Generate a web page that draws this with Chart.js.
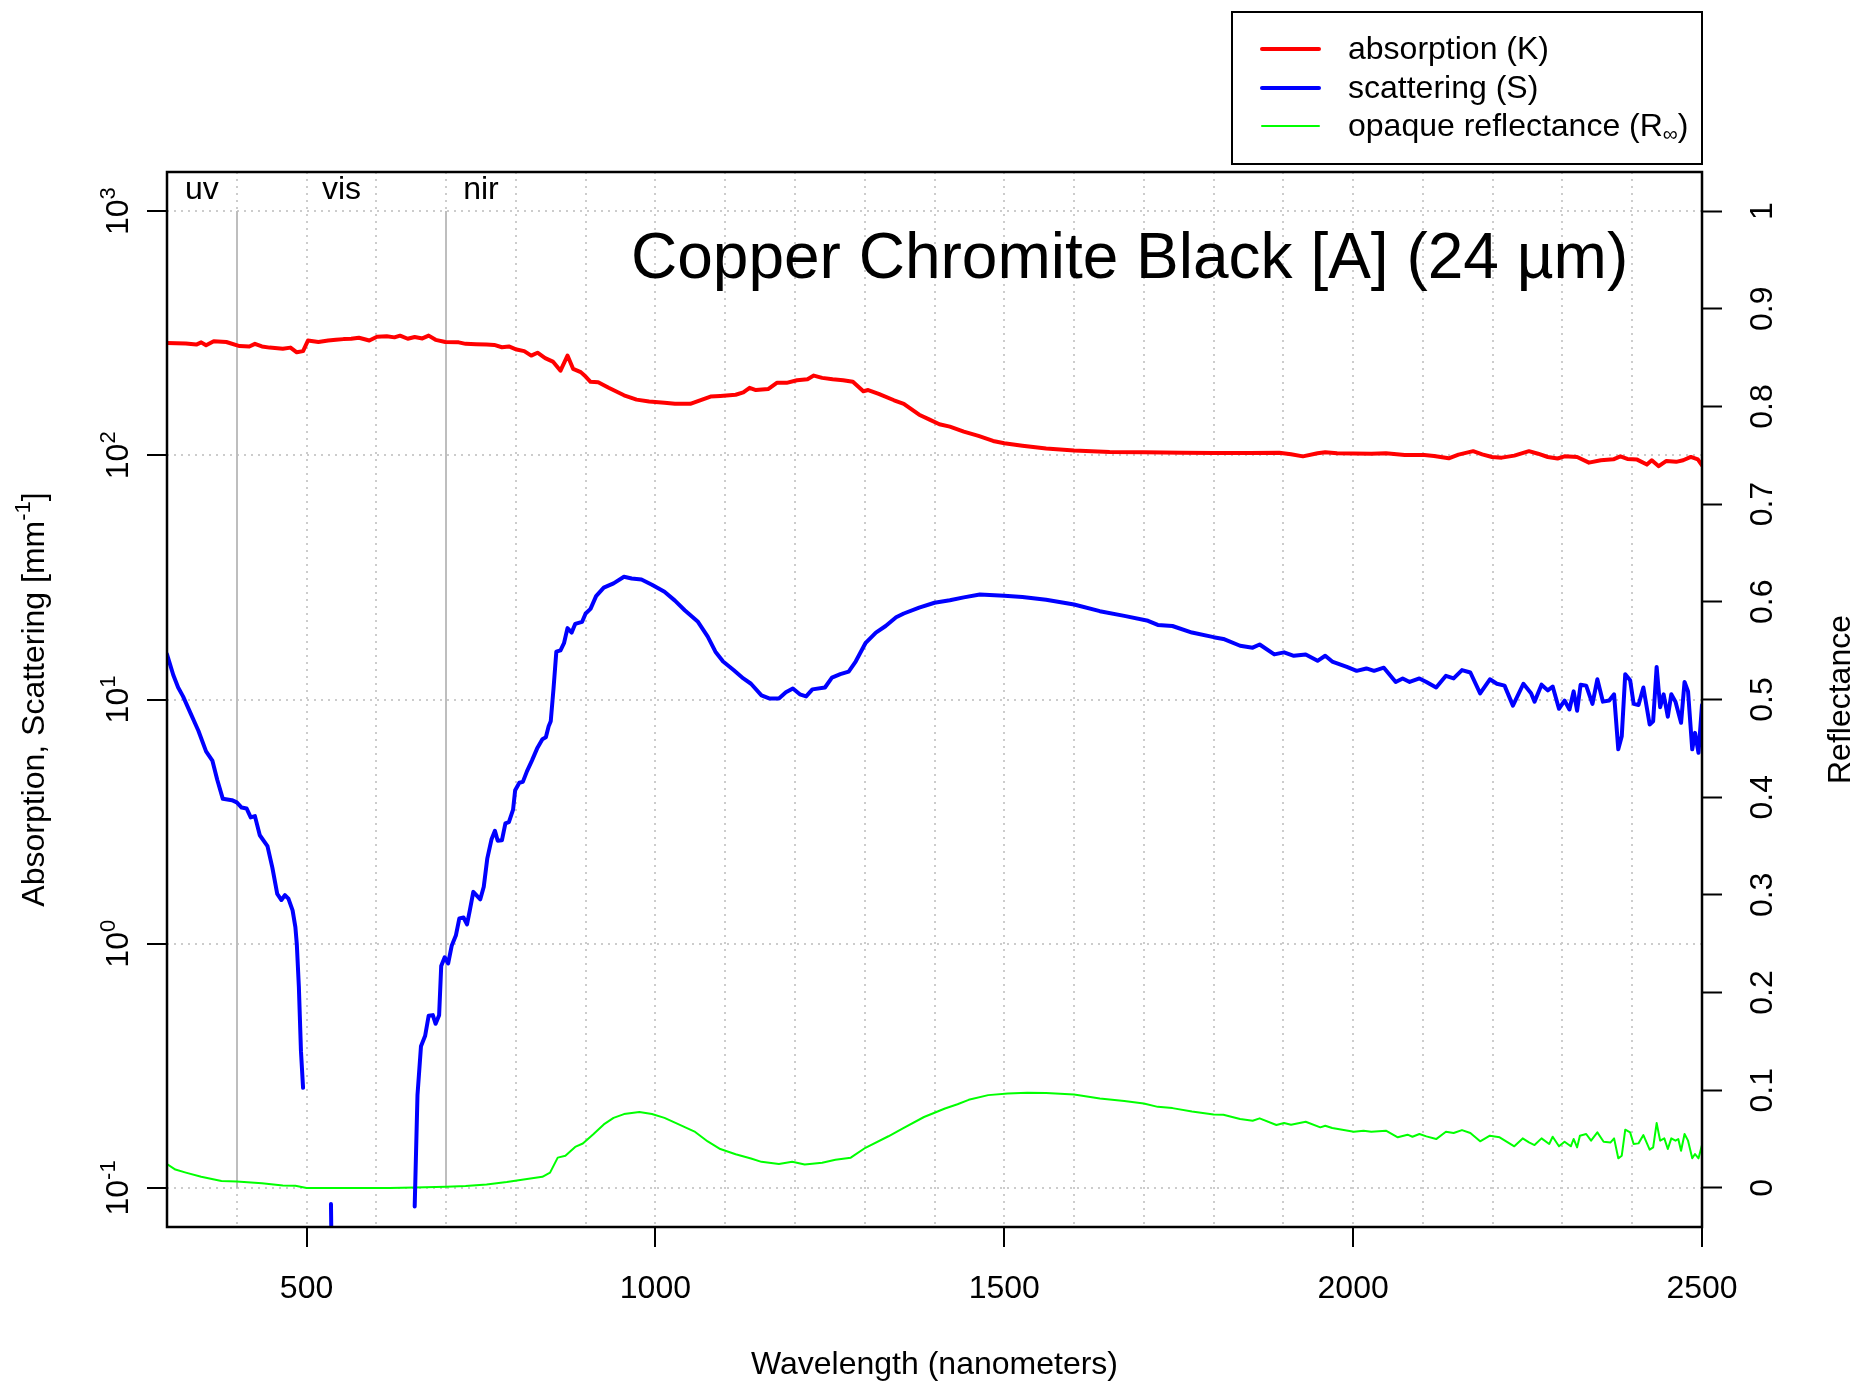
<!DOCTYPE html>
<html>
<head>
<meta charset="utf-8">
<script src="https://cdn.jsdelivr.net/npm/chart.js@4"></script>
<style>
  html, body { margin: 0; padding: 0; background: #fff; }
  #wrap { width: 1860px; height: 1382px; position: relative; }
</style>
</head>
<body>
<div id="wrap"><canvas id="myChart"></canvas></div>
<script>
// absorption K (mm^-1)
var kWave = [300,327,342,349,356,367,385,404,418,426,436,447,466,477,486,495,502,517,531,542,553,564,575,590,601,615,626,634,645,655,666,675,685,699,718,728,743,758,769,780,790,801,812,822,831,842,853,864,874,882,893,900,907,918,933,955,973,991,1013,1028,1050,1064,1079,1093,1115,1126,1135,1144,1162,1174,1188,1203,1218,1227,1239,1254,1269,1283,1298,1305,1320,1342,1356,1378,1393,1407,1422,1442,1463,1484,1500,1526,1560,1600,1651,1700,1755,1800,1852,1894,1911,1928,1949,1960,1977,2000,2026,2047,2074,2102,2116,2137,2151,2172,2185,2199,2213,2231,2252,2265,2279,2293,2303,2321,2338,2355,2373,2383,2393,2407,2421,2428,2438,2449,2463,2473,2484,2494,2500];
var kVals = [288,287,284,290,282,293,291,280,279,286,279,276,273,276,264,267,295,291,295,297,299,300,303,295,306,307,304,309,300,305,301,309,297,291,290,286,285,284,283,277,279,271,267,256,263,250,242,222,256,226,219,210,200,199,189,176,169,166,164,162.5,162.5,168,174,175,177,181,189,185,187,198,198,203,205,212,207.5,205,203,200,183,185,178.5,168,162.5,146.6,140,134,131,125,120,114.5,112,109.5,106.5,104.5,103.2,102.9,102.5,102.2,102.2,102.5,101,99,102,103,102,101.8,101.5,102,100.3,100.3,99.4,97.2,100.6,104,100.9,98.4,97.8,99.7,104,101.5,98.4,97,99,98.4,93.3,95.4,96.3,99,96.6,96,91.6,95.4,90.2,94.8,94,95.4,98.5,96.2,91];

// scattering S (mm^-1), null = no value (gap in the line)
var sWave = [300,309,316,323,334,345,356,365,372,380,393,400,407,414,420,426,433,444,451,458,464,469,474,480,484,486,489,492,495,500,535,537,545,650,655,659,664,670,675,681,685,690,693,698,703,708,714,719,725,730,734,739,749,754,759,765,770,774,780,785,790,796,799,805,810,816,823,831,838,843,847,850,854,858,864,869,874,880,885,895,900,907,915,926,940,955,966,980,995,1013,1028,1042,1061,1075,1086,1097,1112,1126,1137,1152,1163,1177,1187,1197,1207,1216,1225,1243,1253,1265,1277,1287,1301,1316,1330,1345,1356,1378,1400,1422,1442,1465,1500,1526,1560,1600,1637,1672,1706,1720,1741,1769,1800,1814,1838,1856,1866,1887,1901,1915,1932,1949,1960,1970,1991,2005,2019,2030,2044,2061,2071,2081,2095,2105,2119,2133,2144,2156,2168,2182,2196,2206,2217,2229,2244,2255,2260,2270,2279,2286,2295,2303,2310,2316,2321,2326,2334,2343,2350,2358,2367,2374,2380,2385,2390,2397,2402,2409,2416,2425,2430,2435,2440,2445,2451,2456,2462,2470,2475,2480,2486,2490,2495,2500];
var sVals = [15.3,12.6,11.2,10.3,8.75,7.45,6.13,5.62,4.69,3.92,3.87,3.79,3.61,3.58,3.29,3.33,2.78,2.51,2.05,1.6,1.51,1.58,1.53,1.37,1.17,1.0,0.665,0.363,0.257,null,0.086,0.03,null,null,0.084,0.24,0.38,0.42,0.507,0.51,0.47,0.51,0.81,0.88,0.83,0.98,1.08,1.27,1.28,1.2,1.37,1.63,1.52,1.71,2.23,2.67,2.9,2.64,2.65,3.11,3.15,3.54,4.25,4.56,4.6,5.09,5.62,6.35,6.88,7.0,7.77,8.15,11.1,15.7,15.9,17,19.6,18.8,20.4,20.8,22.5,23.5,26.5,28.7,29.9,31.8,31.3,31.0,29.5,27.6,25.4,23.2,20.8,18.1,15.7,14.3,13.2,12.2,11.6,10.4,10.1,10.1,10.7,11.1,10.5,10.3,11.0,11.2,12.3,12.7,13.0,14.3,17.0,18.8,20,21.7,22.5,23.8,24.9,25.5,26.2,26.9,26.6,26.3,25.6,24.5,23,22,21,20.2,20,18.8,18,17.7,16.6,16.3,16.8,15.3,15.6,15.1,15.3,14.4,15.1,14.3,13.6,13.1,13.4,13.1,13.5,11.8,12.2,11.8,12.2,11.8,11.2,12.5,12.2,13.2,12.9,10.6,12.1,11.6,11.4,9.44,11.6,10.6,9.8,11.5,10.9,11.3,9.16,9.9,9.1,10.8,9.0,11.5,11.4,9.6,12.1,9.8,9.9,10.5,6.25,7.08,12.7,12.0,9.6,9.5,11.2,7.9,8.15,13.6,9.3,10.5,8.5,10.5,9.8,8.03,11.8,10.8,6.25,7.3,6.05,9.5];

// opaque reflectance R_inf (0..1, right axis)
var rWave = [300,312,327,349,378,400,436,466,484,500,546,619,655,700,728,758,787,816,838,849,860,871,885,896,911,926,940,955,977,995,1013,1028,1057,1075,1093,1115,1137,1152,1177,1196,1214,1239,1258,1280,1301,1334,1356,1385,1415,1433,1449,1477,1505,1533,1560,1600,1637,1672,1700,1720,1741,1769,1800,1814,1838,1856,1866,1890,1901,1911,1932,1953,1960,1970,2001,2015,2026,2047,2064,2078,2085,2095,2105,2119,2133,2144,2156,2168,2182,2196,2210,2231,2243,2252,2260,2270,2281,2286,2295,2303,2312,2316,2321,2325,2334,2341,2350,2359,2369,2374,2380,2385,2390,2397,2402,2409,2416,2425,2430,2435,2440,2446,2451,2456,2462,2466,2470,2475,2480,2486,2490,2495,2500];
var rVals = [0.0245,0.0188,0.0157,0.0114,0.007,0.0066,0.0048,0.0026,0.0022,0,0,0,0.0004,0.0013,0.002,0.0035,0.006,0.0092,0.0114,0.0157,0.031,0.033,0.042,0.0455,0.055,0.065,0.0717,0.0756,0.0778,0.0756,0.0717,0.0669,0.0573,0.0476,0.0398,0.0345,0.0302,0.0267,0.0245,0.0267,0.024,0.0258,0.0288,0.031,0.0411,0.0529,0.0616,0.0726,0.0813,0.0857,0.0902,0.095,0.0967,0.0974,0.0971,0.0957,0.0916,0.0889,0.0865,0.083,0.0817,0.0783,0.0752,0.0749,0.0705,0.0688,0.0712,0.0644,0.0664,0.0647,0.0678,0.062,0.0637,0.0613,0.0575,0.0586,0.0575,0.0586,0.0518,0.0545,0.0524,0.0552,0.0528,0.05,0.0575,0.0562,0.0592,0.0562,0.0477,0.0535,0.0518,0.0426,0.0507,0.0466,0.0439,0.0507,0.045,0.0524,0.0426,0.0473,0.0426,0.0501,0.0415,0.0535,0.0552,0.0484,0.0569,0.0473,0.0466,0.0507,0.0303,0.033,0.0596,0.0569,0.045,0.0456,0.0541,0.0392,0.0415,0.0664,0.0484,0.0507,0.0398,0.0507,0.0484,0.0501,0.0381,0.0552,0.0484,0.0303,0.0347,0.0303,0.044];

// ticks / labels
var xTickLabels = [500, 1000, 1500, 2000, 2500];
var leftExponents = [-1, 0, 1, 2, 3];
var rightTicks = [0, 0.1, 0.2, 0.3, 0.4, 0.5, 0.6, 0.7, 0.8, 0.9, 1];
var rightTickLabels = ['0', '0.1', '0.2', '0.3', '0.4', '0.5', '0.6', '0.7', '0.8', '0.9', '1'];
var regionNames = ['uv', 'vis', 'nir'];
var regionCenters = [350, 550, 750];
var regionBounds = [400, 700];
var seriesNames = ['absorption (K)', 'scattering (S)', 'opaque reflectance (R'];
var seriesColors = ['#ff0000', '#0000ff', '#00ff00'];
var seriesWidths = [4, 4, 2];
var titleText = 'Copper Chromite Black [A] (24 \u00b5m)';

var FONT = '"Liberation Sans", Arial, Helvetica, sans-serif';
var FS = 32, FS_SUP = 22;
Chart.defaults.font.family = FONT;

function zipPoints(w, v) {
  return w.map(function (x, i) { return { x: x, y: v[i] }; });
}

// fixed plot margins (R style)
var PLOT_LEFT = 167, PLOT_RIGHT = 1702, PLOT_TOP = 172, PLOT_BOTTOM = 1227;

function drawRotated(ctx, text, bx, cy, size) {
  ctx.save();
  ctx.translate(bx, cy);
  ctx.rotate(-Math.PI / 2);
  ctx.font = size + 'px ' + FONT;
  ctx.textAlign = 'center';
  ctx.textBaseline = 'alphabetic';
  ctx.fillText(text, 0, 0);
  ctx.restore();
}

var decorPlugin = {
  id: 'decor',
  beforeDatasetsDraw: function (chart) {
    var ctx = chart.ctx, x = chart.scales.x, y = chart.scales.y;
    ctx.save();
    ctx.strokeStyle = '#bebebe';
    ctx.lineWidth = 2;
    regionBounds.forEach(function (b) {
      var px = Math.round(x.getPixelForValue(b));
      ctx.beginPath();
      ctx.moveTo(px, y.getPixelForValue(1000));
      ctx.lineTo(px, y.getPixelForValue(0.1));
      ctx.stroke();
    });
    ctx.restore();
  },
  afterDraw: function (chart) {
    var ctx = chart.ctx, x = chart.scales.x, y = chart.scales.y, y2 = chart.scales.y2;
    var a = chart.chartArea;
    ctx.save();
    ctx.fillStyle = '#000';

    // frame
    ctx.strokeStyle = '#000';
    ctx.lineWidth = 2.5;
    ctx.strokeRect(a.left, a.top, a.right - a.left, a.bottom - a.top);

    // uv / vis / nir
    ctx.font = FS + 'px ' + FONT;
    ctx.textAlign = 'center';
    ctx.textBaseline = 'alphabetic';
    regionNames.forEach(function (n, i) {
      ctx.fillText(n, x.getPixelForValue(regionCenters[i]), 199);
    });

    // title
    ctx.font = '64px ' + FONT;
    ctx.textAlign = 'left';
    ctx.fillText(titleText, 631, 278);

    // x tick labels
    ctx.font = FS + 'px ' + FONT;
    ctx.textAlign = 'center';
    xTickLabels.forEach(function (v) {
      ctx.fillText(String(v), x.getPixelForValue(v), 1298);
    });

    // left tick labels 10^n, rotated
    leftExponents.forEach(function (e) {
      var cy = y.getPixelForValue(Math.pow(10, e));
      ctx.save();
      ctx.translate(128, cy);
      ctx.rotate(-Math.PI / 2);
      ctx.textAlign = 'left';
      ctx.font = FS + 'px ' + FONT;
      var w10 = ctx.measureText('10').width;
      ctx.font = FS_SUP + 'px ' + FONT;
      var ws = ctx.measureText(String(e)).width;
      var x0 = -(w10 + ws) / 2;
      ctx.font = FS + 'px ' + FONT;
      ctx.fillText('10', x0, 0);
      ctx.font = FS_SUP + 'px ' + FONT;
      ctx.fillText(String(e), x0 + w10, -13);
      ctx.restore();
    });

    // right tick labels, rotated
    rightTicks.forEach(function (v, i) {
      drawRotated(ctx, rightTickLabels[i], 1772, y2.getPixelForValue(v), FS);
    });

    // axis titles
    ctx.textAlign = 'center';
    ctx.font = FS + 'px ' + FONT;
    ctx.fillText('Wavelength (nanometers)', (a.left + a.right) / 2, 1374);
    drawRotated(ctx, 'Reflectance', 1850, (a.top + a.bottom) / 2, FS);

    // left axis title with superscript
    ctx.save();
    ctx.translate(44, (a.top + a.bottom) / 2);
    ctx.rotate(-Math.PI / 2);
    ctx.textAlign = 'left';
    var t1 = 'Absorption, Scattering [mm', t2 = '-1', t3 = ']';
    ctx.font = FS + 'px ' + FONT;
    var w1 = ctx.measureText(t1).width, w3 = ctx.measureText(t3).width;
    ctx.font = FS_SUP + 'px ' + FONT;
    var w2 = ctx.measureText(t2).width;
    var sx = -(w1 + w2 + w3) / 2;
    ctx.font = FS + 'px ' + FONT;
    ctx.fillText(t1, sx, 0);
    ctx.fillText(t3, sx + w1 + w2, 0);
    ctx.font = FS_SUP + 'px ' + FONT;
    ctx.fillText(t2, sx + w1, -14);
    ctx.restore();

    // legend
    ctx.lineWidth = 2;
    ctx.strokeStyle = '#000';
    ctx.strokeRect(1232, 12, 470, 152);
    var rows = [49, 88, 126];
    ctx.lineCap = 'round';
    seriesNames.forEach(function (n, i) {
      ctx.strokeStyle = seriesColors[i];
      ctx.lineWidth = seriesWidths[i];
      ctx.beginPath();
      ctx.moveTo(1262, rows[i]);
      ctx.lineTo(1319, rows[i]);
      ctx.stroke();
      ctx.font = FS + 'px ' + FONT;
      ctx.textAlign = 'left';
      ctx.fillText(n, 1348, rows[i] + 10);
    });
    // subscript infinity and closing bracket for R_inf
    ctx.font = FS + 'px ' + FONT;
    var wr = ctx.measureText(seriesNames[2]).width;
    ctx.font = '21px ' + FONT;
    var winf = ctx.measureText('\u221e').width;
    ctx.fillText('\u221e', 1348 + wr, rows[2] + 15);
    ctx.font = FS + 'px ' + FONT;
    ctx.fillText(')', 1348 + wr + winf, rows[2] + 10);

    ctx.restore();
  }
};

var gridDots = { color: '#cccccc', lineWidth: 2, dash: [2, 5] };

var ctx = document.getElementById('myChart');
var myChart = new Chart(ctx, {
  type: 'line',
  data: {
    datasets: [{
      label: seriesNames[0],
      data: zipPoints(kWave, kVals),
      borderColor: seriesColors[0],
      borderWidth: seriesWidths[0],
      yAxisID: 'y'
    }, {
      label: seriesNames[1],
      data: zipPoints(sWave, sVals),
      borderColor: seriesColors[1],
      borderWidth: seriesWidths[1],
      spanGaps: false,
      yAxisID: 'y'
    }, {
      label: seriesNames[2],
      data: zipPoints(rWave, rVals),
      borderColor: seriesColors[2],
      borderWidth: seriesWidths[2],
      yAxisID: 'y2'
    }]
  },
  options: {
    responsive: true,
    maintainAspectRatio: false,
    devicePixelRatio: 1,
    animation: false,
    layout: { padding: { top: PLOT_TOP, left: 0, right: 0, bottom: 0 } },
    elements: {
      point: { radius: 0 },
      line: { tension: 0, fill: false, borderCapStyle: 'round', borderJoinStyle: 'round' }
    },
    plugins: { legend: { display: false }, tooltip: { enabled: false } },
    scales: {
      x: {
        type: 'linear',
        min: 300,
        max: 2500,
        ticks: { stepSize: 100, display: false },
        border: { display: false, dash: gridDots.dash },
        grid: {
          color: gridDots.color,
          lineWidth: gridDots.lineWidth,
          tickLength: 20,
          tickWidth: 2,
          tickBorderDash: [],
          tickColor: function (c) {
            return c.tick && xTickLabels.indexOf(c.tick.value) >= 0 ? '#000' : 'rgba(0,0,0,0)';
          }
        },
        afterFit: function (s) { s.height = 1382 - PLOT_BOTTOM; }
      },
      y: {
        type: 'logarithmic',
        position: 'left',
        min: Math.pow(10, -1.16),
        max: Math.pow(10, 3.16),
        ticks: { display: false },
        border: { display: false, dash: gridDots.dash },
        afterBuildTicks: function (s) {
          s.ticks = leftExponents.map(function (e) { return { value: Math.pow(10, e) }; });
        },
        grid: {
          color: gridDots.color,
          lineWidth: gridDots.lineWidth,
          tickLength: 20,
          tickWidth: 2,
          tickBorderDash: [],
          tickColor: '#000'
        },
        afterFit: function (s) { s.width = PLOT_LEFT; }
      },
      y2: {
        type: 'linear',
        position: 'right',
        min: -0.04,
        max: 1.04,
        ticks: { display: false },
        border: { display: false },
        afterBuildTicks: function (s) {
          s.ticks = rightTicks.map(function (v) { return { value: v }; });
        },
        grid: {
          drawOnChartArea: false,
          tickLength: 20,
          tickWidth: 2,
          tickColor: '#000'
        },
        afterFit: function (s) { s.width = 1860 - PLOT_RIGHT; }
      }
    }
  },
  plugins: [decorPlugin]
});
</script>
</body>
</html>
